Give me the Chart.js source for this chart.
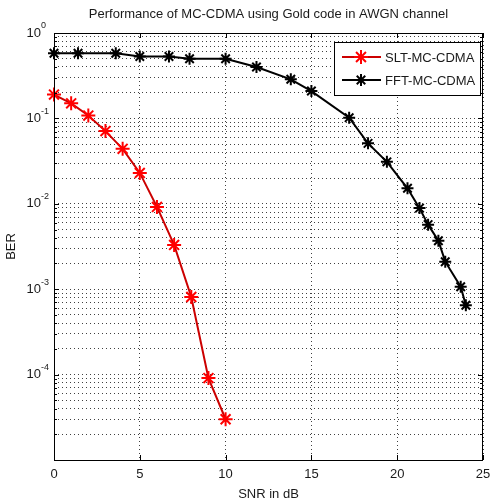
<!DOCTYPE html>
<html>
<head>
<meta charset="utf-8">
<script src="https://cdn.jsdelivr.net/npm/chart.js@4.4.1/dist/chart.umd.min.js"></script>
<style>
  html, body { margin: 0; padding: 0; background: #fff; }
  canvas { display: block; }
</style>
</head>
<body>
<canvas id="berChart" width="492" height="503"></canvas>
<script>
const titleText = 'Performance of MC-CDMA using Gold code in AWGN channel';
const seriesNames = ['SLT-MC-CDMA', 'FFT-MC-CDMA'];
const snrSlt = [0, 1, 2, 3, 4, 5, 6, 7, 8, 9, 10];
const berSlt = [0.19, 0.15, 0.108, 0.071, 0.044, 0.023, 0.0092, 0.0033, 0.00081, 0.000091, 0.00003];
const snrFft = [0, 1.4, 3.6, 5, 6.7, 7.9, 10, 11.8, 13.8, 15, 17.2, 18.3, 19.4, 20.6, 21.3, 21.8, 22.4, 22.8, 23.7, 24];
const berFft = [0.58, 0.58, 0.58, 0.53, 0.53, 0.5, 0.5, 0.40, 0.287, 0.209, 0.102, 0.051, 0.031, 0.0152, 0.0089, 0.0057, 0.0037, 0.0021, 0.00107, 0.00065];
const xTicks = [0, 5, 10, 15, 20, 25];
const yExponents = [-5, -4, -3, -2, -1, 0];
const yLabelExponents = [-4, -3, -2, -1, 0];

const FONT = "'Liberation Sans', Arial, sans-serif";
Chart.defaults.font.family = FONT;

const toPoints = (xs, ys) => xs.map((x, i) => ({ x, y: ys[i] }));

// every 1..9 x 10^k position for the log grid
const logGridValues = () => {
    const values = [];
    yExponents.slice(0, -1).forEach((k) => {
        for (let m = 1; m < 10; m++) values.push(m * Math.pow(10, k));
    });
    values.push(Math.pow(10, yExponents[yExponents.length - 1]));
    return values;
};

const matlabAxes = {
    id: 'matlabAxes',
    afterDraw(chart) {
        const { ctx, chartArea: area, scales: { x, y } } = chart;
        ctx.save();

        // frame
        ctx.strokeStyle = '#000';
        ctx.lineWidth = 1;
        ctx.setLineDash([]);
        ctx.strokeRect(Math.round(area.left) + 0.5, Math.round(area.top) + 0.5,
            Math.round(area.right - area.left) - 1, Math.round(area.bottom - area.top));

        // inward ticks
        ctx.beginPath();
        xTicks.forEach((v) => {
            const px = Math.round(x.getPixelForValue(v)) + 0.5;
            ctx.moveTo(px, area.bottom); ctx.lineTo(px, area.bottom - 5);
            ctx.moveTo(px, area.top); ctx.lineTo(px, area.top + 5);
        });
        logGridValues().forEach((v) => {
            const py = Math.round(y.getPixelForValue(v)) + 0.5;
            const len = Math.abs(Math.log10(v) % 1) < 1e-9 ? 5 : 3;
            ctx.moveTo(area.left, py); ctx.lineTo(area.left + len, py);
            ctx.moveTo(area.right, py); ctx.lineTo(area.right - len, py);
        });
        ctx.stroke();

        ctx.fillStyle = '#1a1a1a';
        ctx.textBaseline = 'middle';

        // title
        ctx.font = `13px ${FONT}`;
        ctx.textAlign = 'center';
        ctx.fillText(titleText, (area.left + area.right) / 2, 14);

        // x tick labels
        ctx.font = `13px ${FONT}`;
        xTicks.forEach((v) => {
            ctx.fillText(String(v), x.getPixelForValue(v), 474);
        });

        // y tick labels as 10^k
        yLabelExponents.forEach((k) => {
            const py = y.getPixelForValue(Math.pow(10, k));
            ctx.font = `13px ${FONT}`;
            ctx.textAlign = 'right';
            ctx.fillText('10', 41, py);
            ctx.font = `9px ${FONT}`;
            ctx.textAlign = 'left';
            ctx.fillText(String(k), 41, py - 7);
        });

        // legend box
        const box = { left: 334.5, top: 42.5, width: 146, height: 53 };
        ctx.fillStyle = '#fff';
        ctx.fillRect(box.left, box.top, box.width, box.height);
        ctx.strokeStyle = '#000';
        ctx.strokeRect(box.left, box.top, box.width, box.height);
        chart.data.datasets.forEach((ds, i) => {
            const ly = 57 + i * 23;
            ctx.strokeStyle = ds.borderColor;
            ctx.lineWidth = ds.borderWidth;
            ctx.beginPath();
            ctx.moveTo(342, ly); ctx.lineTo(381, ly);
            ctx.stroke();
            ctx.strokeStyle = ds.pointBorderColor;
            Chart.helpers.drawPoint(ctx, {
                pointStyle: 'star', radius: ds.pointRadius, borderWidth: ds.pointBorderWidth, rotation: 0,
            }, 361, ly);
            ctx.fillStyle = '#1a1a1a';
            ctx.font = `13px ${FONT}`;
            ctx.textAlign = 'left';
            ctx.fillText(ds.label, 385, ly + 1);
        });

        ctx.restore();
    },
};

const gridStyle = {
    color: 'rgba(0, 0, 0, 0.75)',
    lineWidth: 1,
    tickLength: 0,
};

new Chart(document.getElementById('berChart'), {
    type: 'line',
    data: {
        datasets: [
            {
                label: seriesNames[0],
                data: toPoints(snrSlt, berSlt),
                borderColor: '#cc0000',
                borderWidth: 2,
                pointStyle: 'star',
                pointRadius: 7,
                pointBorderWidth: 2,
                pointBorderColor: '#ff0000',
                pointBackgroundColor: '#ff0000',
                tension: 0,
                clip: false,
            },
            {
                label: seriesNames[1],
                data: toPoints(snrFft, berFft),
                borderColor: '#000000',
                borderWidth: 2,
                pointStyle: 'star',
                pointRadius: 6,
                pointBorderWidth: 2,
                pointBorderColor: '#000000',
                pointBackgroundColor: '#000000',
                tension: 0,
                clip: false,
            },
        ],
    },
    options: {
        responsive: false,
        devicePixelRatio: 1,
        animation: false,
        layout: { padding: { top: 33, right: 6, left: 0, bottom: 0 } },
        plugins: {
            legend: { display: false },
            title: { display: false },
            tooltip: { enabled: false },
        },
        scales: {
            x: {
                type: 'linear',
                min: 0,
                max: 25,
                afterBuildTicks: (scale) => {
                    scale.ticks = xTicks.map((value) => ({ value }));
                },
                afterFit: (scale) => { scale.height = 43; },
                ticks: { display: false },
                grid: { ...gridStyle },
                border: { display: false, dash: [1, 3] },
                title: {
                    display: true,
                    text: 'SNR in dB',
                    color: '#1a1a1a',
                    font: { size: 13 },
                    padding: { top: 0, bottom: 1 },
                },
            },
            y: {
                type: 'logarithmic',
                min: 1e-5,
                max: 1,
                afterBuildTicks: (scale) => {
                    scale.ticks = logGridValues().map((value) => ({ value }));
                },
                afterFit: (scale) => { scale.width = 54; },
                ticks: { display: false },
                grid: { ...gridStyle },
                border: { display: false, dash: [1, 3] },
                title: {
                    display: true,
                    text: 'BER',
                    color: '#1a1a1a',
                    font: { size: 13 },
                    padding: { top: 4, bottom: 0 },
                },
            },
        },
    },
    plugins: [matlabAxes],
});
</script>
</body>
</html>
